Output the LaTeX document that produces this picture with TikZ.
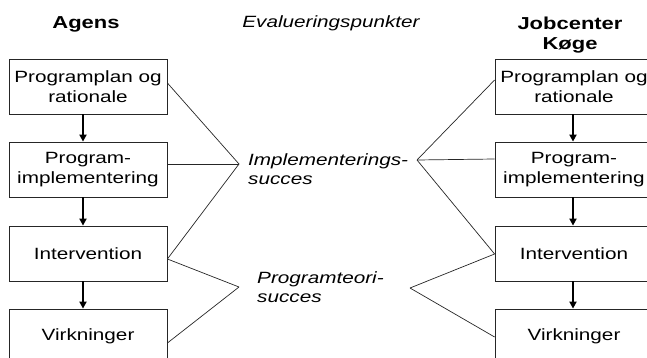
\documentclass[tikz,border=0pt]{standalone}
\usepackage{fontspec}
\setmainfont{Liberation Sans}[FakeStretch=1.27]
\usetikzlibrary{arrows.meta,calc}
\tikzset{
  stagebox/.style={draw=black!85, line width=0.8pt, minimum width=158pt, minimum height=55pt, inner sep=0pt, align=center, font=\fontsize{16.3}{19.5}\selectfont},
  flowarrow/.style={line width=2.2pt, -{Triangle[length=7pt,width=7pt]}},
  evalline/.style={line width=0.7pt, black!85},
  headtxt/.style={font=\fontsize{17.3}{20}\selectfont\bfseries, align=center, inner sep=0pt},
  labeltxt/.style={font=\fontsize{16.3}{19.5}\selectfont\itshape, align=left, inner sep=0pt},
}
\begin{document}
\begin{tikzpicture}[x=1pt,y=-1pt]
\useasboundingbox (0,0) rectangle (647,358);
\clip (0,0) rectangle (647,358);
% left column
\node[headtxt] (hA) at (86,24) {Agens};
\node[stagebox] (a1) at (88,86.5) {Programplan og\\rationale};
\node[stagebox] (a2) at (88,169.5) {Program-\\implementering};
\node[stagebox] (a3) at (88,253.5) {Intervention};
\node[stagebox] (a4) at (88,336.5) {Virkninger};
% right column
\node[headtxt] (hJ) at (570,35) {Jobcenter\\Køge};
\node[stagebox] (j1) at (574,86.5) {Programplan og\\rationale};
\node[stagebox] (j2) at (574,169.5) {Program-\\implementering};
\node[stagebox] (j3) at (574,253.5) {Intervention};
\node[stagebox] (j4) at (574,336.5) {Virkninger};
% middle
\node[font=\fontsize{16.3}{19.5}\selectfont\itshape, inner sep=0pt] (hE) at (331,23) {Evalueringspunkter};
\node[labeltxt, anchor=west] (li) at (248,169) {Implementerings-\\succes};
\node[labeltxt, anchor=west] (lp) at (257,287) {Programteori-\\succes};
\coordinate (ia) at (239,164);
\coordinate (pa) at (239,287);
\coordinate (ib) at (417,160);
\coordinate (pb) at (410,288);
% arrows
\draw[flowarrow] ($(a1.south)+(-5,0)$) -- ($(a2.north)+(-5,0)$);
\draw[flowarrow] ($(a2.south)+(-5,0)$) -- ($(a3.north)+(-5,0)$);
\draw[flowarrow] ($(a3.south)+(-5,0)$) -- ($(a4.north)+(-5,0)$);
\draw[flowarrow] ($(j1.south)+(-1,0)$) -- ($(j2.north)+(-1,0)$);
\draw[flowarrow] ($(j2.south)+(-1,0)$) -- ($(j3.north)+(-1,0)$);
\draw[flowarrow] ($(j3.south)+(-1,0)$) -- ($(j4.north)+(-1,0)$);
% evaluation lines left
\draw[evalline] ($(a1.east)+(0,-3.5)$) -- (ia);
\draw[evalline] ($(a2.east)+(0,-5.5)$) -- (ia);
\draw[evalline] ($(a3.east)+(0,5.5)$) -- (ia);
\draw[evalline] ($(a3.east)+(0,5.5)$) -- (pa);
\draw[evalline] ($(a4.east)+(0,6.5)$) -- (pa);
% evaluation lines right
\draw[evalline] ($(j1.west)+(0,-6.5)$) -- (ib);
\draw[evalline] ($(j2.west)+(0,-10.5)$) -- (ib);
\draw[evalline] ($(j3.west)+(0,0.5)$) -- (ib);
\draw[evalline] ($(j3.west)+(0,0.5)$) -- (pb);
\draw[evalline] ($(j4.west)+(0,0.5)$) -- (pb);
\end{tikzpicture}
\end{document}
